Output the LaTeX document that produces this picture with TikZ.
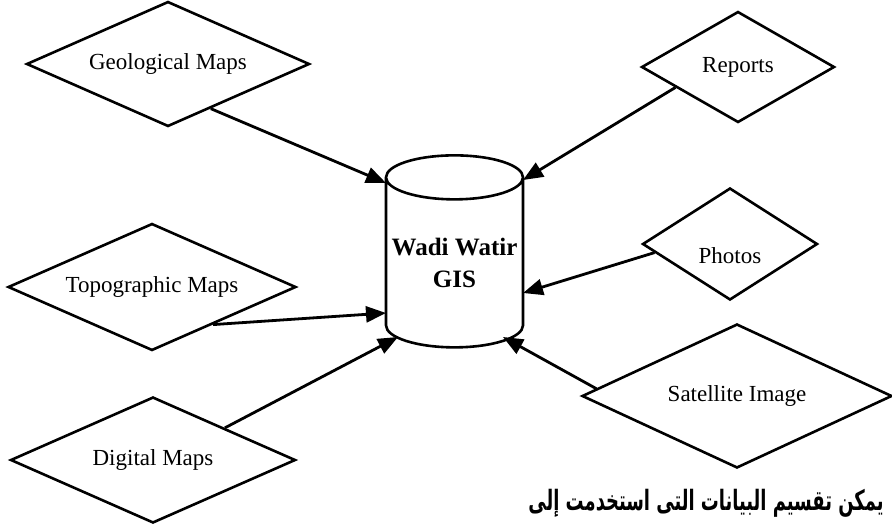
\documentclass[tikz,border=0pt]{standalone}
\usepackage{fontspec}
\setmainfont{Liberation Serif}
\newfontfamily\arabicfont[Script=Arabic, FakeStretch=0.64]{DejaVu Sans}
\TeXXeTstate=1
\usetikzlibrary{shapes.geometric,arrows.meta,calc}

\begin{document}
\begin{tikzpicture}[
        x=0.5pt, y=-0.5pt,
        source/.style={diamond, draw, line width=1.3pt, inner sep=0pt, align=center, font=\fontsize{11.5}{13}\selectfont},
        store/.style={cylinder, shape border rotate=90, draw, line width=1.3pt, aspect=0.35, minimum width=68.5pt, minimum height=96pt, inner sep=0pt, align=center, font=\bfseries\fontsize{12.5}{16}\selectfont},
        arrow/.style={-{Triangle[length=10pt,width=8pt]}, line width=1.4pt}
    ]
        \useasboundingbox (0,0) rectangle (892,526);

        % Central database
        \node[store] (gis) at (454.5, 263) {Wadi Watir\\GIS};

        % Data sources, left column
        \node[source, aspect=2.26, minimum width=141.5pt, minimum height=62.5pt] (geo) at (168, 64) {Geological Maps};
        \node[source, aspect=2.27, minimum width=144pt, minimum height=63.5pt] (topo) at (152, 287) {Topographic Maps};
        \node[source, aspect=2.26, minimum width=142.5pt, minimum height=63pt] (digital) at (153, 460) {Digital Maps};

        % Data sources, right column
        \node[source, aspect=1.74, minimum width=96.5pt, minimum height=55.5pt] (reports) at (738, 67) {Reports};
        \node[source, aspect=1.56, minimum width=87.5pt, minimum height=56pt] (photos) at (730, 244) {\rule{0pt}{20pt}Photos};
        \node[source, aspect=2.15, minimum width=155pt, minimum height=72pt] (satellite) at (737, 396) {Satellite Image};

        % Arrows into the database
        \draw[arrow] ($(geo.south)!0.3!(geo.east)$) -- ($(gis.center)+(-68.5,-80)$);
        \draw[arrow] ($(topo.south)!0.42!(topo.east)$) -- ($(gis.center)+(-68.5,50)$);
        \draw[arrow] ($(digital.north)!0.5!(digital.east)$) -- ($(gis.center)+(-56.5,74)$);
        \draw[arrow] ($(reports.west)!0.36!(reports.south)$) -- ($(gis.center)+(68.5,-83)$);
        \draw[arrow] ($(photos.west)!0.15!(photos.south)$) -- ($(gis.center)+(68.5,30)$);
        \draw[arrow] ($(satellite.west)!0.1!(satellite.north)$) -- ($(gis.center)+(48.5,74)$);

        % Caption
        \node[anchor=east, inner sep=0pt, font=\arabicfont\bfseries\fontsize{14}{16}\selectfont] (caption) at (884, 503) {\beginR يمكن تقسيم البيانات التى استخدمت إلى\endR};

    \end{tikzpicture}
\end{document}
